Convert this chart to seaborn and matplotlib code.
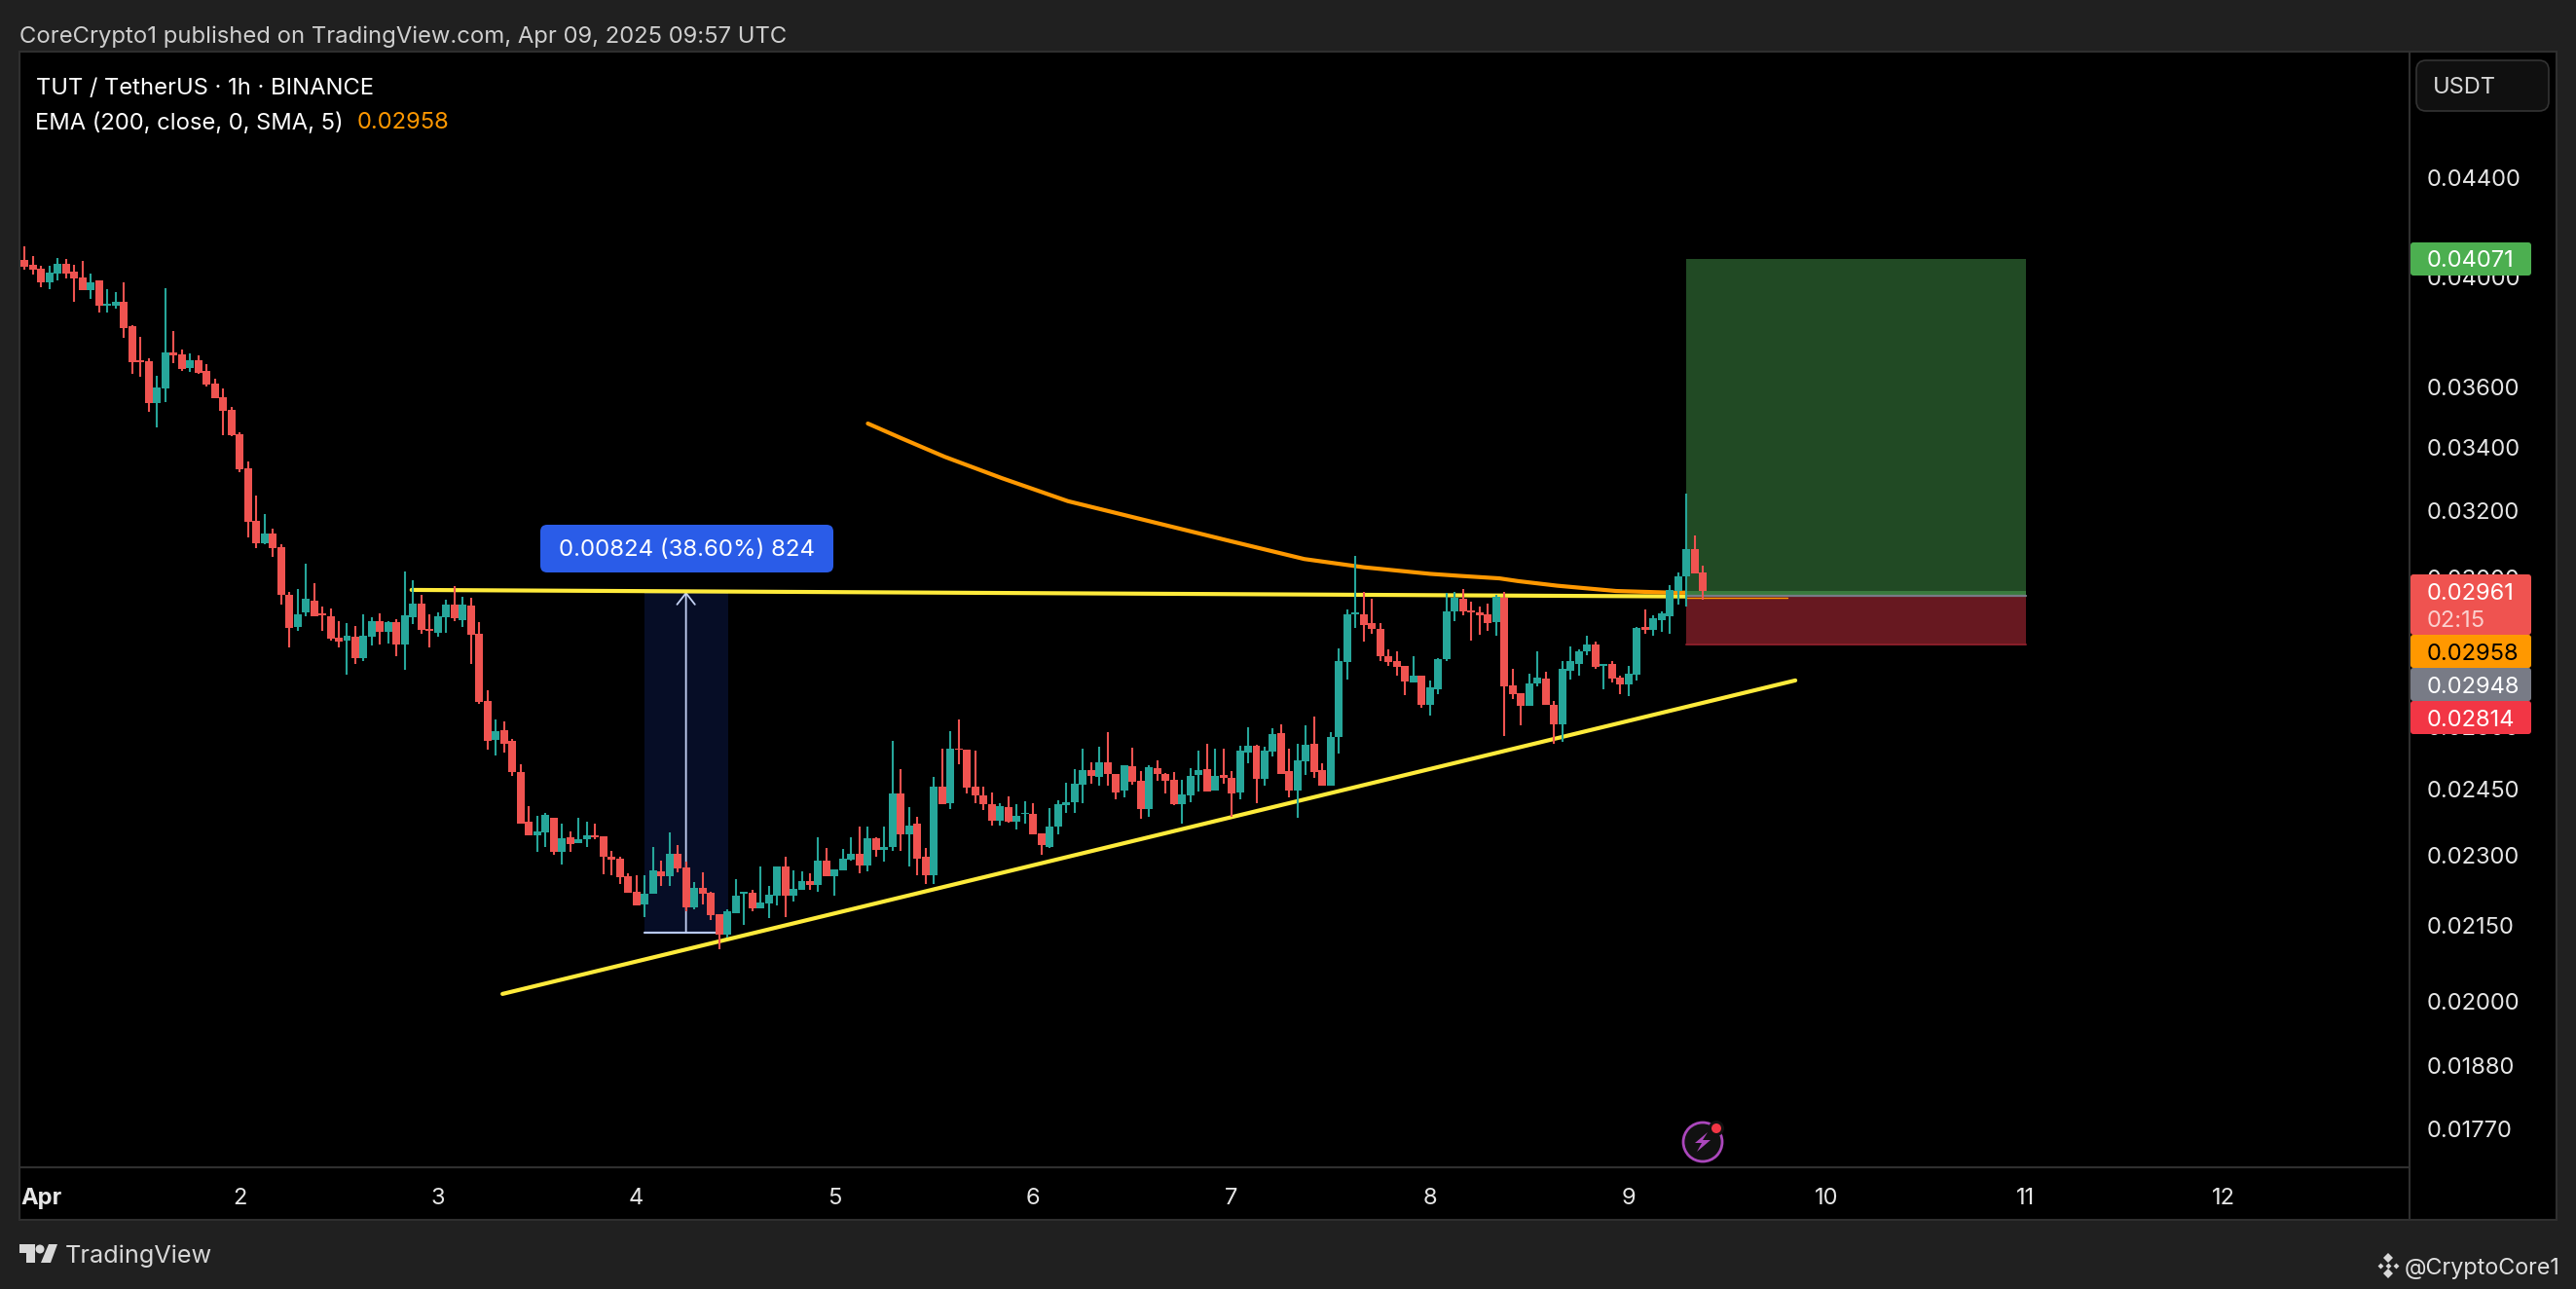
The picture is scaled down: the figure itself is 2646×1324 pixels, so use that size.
import numpy as np
import pandas as pd
import seaborn as sns
import matplotlib.pyplot as plt
from matplotlib.patches import Rectangle, FancyBboxPatch, Polygon, Circle

W, H = 2646, 1324

# hourly candles, in price ticks (1 tick = 0.00001 USDT), first one is Mar 31 22:00
opens = [4065,4046,4032,3980,4015,4050,4020,3997,3950,3987,3893,3893,3907,3816,3693,3691,3546,3596,3722,3715,
         3667,3694,3655,3612,3566,3523,3442,3331,3167,3101,3130,3089,2951,2862,2902,2935,2899,2891,2833,2825,
         2836,2778,2836,2878,2849,2875,2815,2888,2927,2857,2846,2888,2925,2881,2921,2843,2666,2568,2592,2566,
         2490,2374,2344,2350,2385,2307,2339,2326,2335,2345,2341,2297,2292,2254,2221,2194,2216,2264,2254,2303,
         2273,2188,2230,2219,2174,2131,2175,2217,2219,2186,2196,2213,2275,2213,2226,2244,2236,2288,2254,2267,
         2291,2303,2277,2337,2311,2318,2440,2347,2370,2297,2256,2455,2417,2548,2544,2455,2435,2416,2377,2409,
         2376,2392,2393,2349,2318,2363,2413,2419,2461,2495,2479,2513,2487,2446,2504,2470,2404,2500,2487,2473,
         2415,2436,2483,2498,2447,2484,2477,2443,2537,2554,2475,2540,2586,2492,2447,2516,2559,2495,2459,2575,
         2768,2896,2896,2872,2856,2784,2770,2758,2713,2731,2655,2697,2775,2904,2939,2907,2902,2896,2875,2944,
         2706,2685,2653,2711,2724,2655,2606,2745,2763,2797,2813,2758,2761,2727,2709,2735,2863,2853,2881,2892,
         2961,3004,3082,3014]
highs = [4119,4080,4042,4042,4074,4070,4046,4062,4014,3989,3953,3945,3982,3820,3778,3700,3640,3957,3798,3731,
         3717,3711,3679,3631,3597,3531,3447,3352,3245,3187,3143,3098,2959,2968,3040,2984,2917,2913,2877,2873,
         2864,2896,2888,2899,2877,2884,3017,2993,2951,2896,2902,2938,2975,2946,2943,2874,2693,2618,2614,2572,
         2509,2411,2389,2394,2385,2370,2352,2383,2376,2370,2343,2310,2296,2260,2256,2256,2318,2288,2350,2323,
         2286,2242,2262,2221,2174,2184,2247,2221,2225,2275,2234,2275,2296,2267,2265,2261,2339,2315,2268,2314,
         2339,2363,2363,2339,2363,2565,2498,2409,2387,2315,2478,2547,2589,2618,2544,2542,2457,2443,2418,2434,
         2415,2421,2418,2349,2407,2424,2466,2498,2546,2513,2551,2588,2487,2507,2549,2493,2506,2519,2489,2490,
         2472,2500,2543,2560,2546,2548,2492,2554,2600,2556,2551,2598,2607,2546,2559,2605,2627,2512,2588,2804,
         2910,3063,2958,2941,2872,2801,2796,2758,2784,2731,2718,2777,2956,2959,2968,2932,2918,2926,2951,2958,
         2750,2685,2737,2797,2742,2665,2771,2810,2802,2837,2823,2763,2769,2732,2758,2863,2909,2895,2906,2980,
         3014,3251,3125,3036]
lows = [4030,4011,3960,3955,3989,3996,3907,3950,3919,3868,3868,3882,3775,3648,3637,3515,3465,3550,3683,3658,
        3654,3645,3601,3562,3437,3436,3319,3119,3087,3099,3059,2925,2805,2852,2892,2890,2852,2824,2807,2735,
        2763,2770,2811,2813,2817,2783,2747,2871,2842,2805,2836,2846,2879,2862,2763,2658,2544,2530,2537,2481,
        2370,2344,2307,2318,2302,2279,2307,2326,2318,2335,2259,2256,2238,2219,2192,2168,2216,2234,2234,2263,
        2179,2183,2195,2162,2102,2125,2175,2151,2180,2186,2165,2193,2168,2200,2226,2226,2220,2254,2213,2267,
        2289,2261,2264,2296,2286,2310,2310,2275,2256,2238,2238,2415,2403,2509,2441,2417,2402,2367,2367,2373,
        2358,2370,2347,2302,2315,2347,2394,2394,2417,2463,2459,2459,2427,2430,2460,2382,2386,2469,2440,2414,
        2371,2420,2444,2445,2447,2463,2387,2427,2511,2417,2458,2528,2485,2431,2384,2484,2477,2459,2459,2534,
        2722,2859,2821,2842,2770,2756,2731,2680,2713,2648,2629,2683,2771,2877,2893,2825,2840,2851,2838,2579,
        2670,2604,2653,2703,2655,2559,2564,2722,2732,2785,2750,2696,2714,2683,2678,2719,2842,2838,2848,2842,
        2925,2917,3011,2936]
closes = [4040,4030,3980,4017,4050,4015,3996,3950,3982,3892,3899,3907,3810,3687,3688,3546,3598,3722,3712,3663,
          3694,3651,3609,3562,3520,3438,3329,3165,3101,3130,3087,2950,2859,2896,2939,2892,2895,2830,2822,2837,
          2778,2837,2878,2849,2874,2815,2894,2927,2854,2852,2891,2925,2886,2925,2841,2664,2566,2590,2560,2491,
          2370,2344,2352,2391,2307,2337,2324,2336,2345,2339,2297,2291,2252,2219,2192,2216,2267,2254,2303,2271,
          2188,2230,2217,2172,2131,2180,2213,2221,2186,2198,2215,2275,2213,2227,2244,2236,2288,2254,2268,2292,
          2303,2277,2337,2312,2318,2440,2347,2367,2292,2256,2455,2415,2546,2544,2453,2435,2415,2377,2411,2374,
          2388,2396,2347,2322,2365,2415,2420,2463,2495,2481,2513,2487,2443,2507,2467,2404,2502,2487,2469,2415,
          2438,2482,2495,2445,2482,2477,2440,2543,2554,2475,2543,2583,2487,2447,2519,2557,2490,2459,2576,2770,
          2896,2902,2867,2856,2784,2768,2755,2716,2731,2655,2702,2774,2904,2942,2904,2902,2893,2872,2945,2703,
          2683,2653,2711,2727,2655,2606,2748,2771,2797,2813,2755,2763,2724,2709,2737,2860,2853,2887,2898,2964,
          3005,3082,3011,2961]

# 200 EMA, read at a few hours and joined
ema_hours = [100, 104, 109.3, 116.2, 124.2, 134, 144, 152.8, 160, 168, 171.7, 176.4, 178.7, 183.4, 190.5, 197.6, 201]
ema_vals = [0.03477, 0.03429, 0.03368, 0.03300, 0.03228, 0.03167, 0.03106, 0.03054, 0.03030, 0.03011, 0.03005,
            0.02998, 0.02990, 0.02977, 0.02962, 0.02957, 0.02958]

# drawings on the chart
resist_hours, resist_vals = [44.8, 211.3], [0.02965, 0.02945]
support_hours, support_vals = [55.8, 212.2], [0.02014, 0.02719]
pos_hours = (199, 240.1)
pos_target, pos_entry, pos_stop, last_price = 0.04071, 0.02948, 0.02814, 0.02961
meas_hours, meas_low, meas_high = (73, 83.1), 0.02136, 0.02960

# axes
day_ticks = [0, 24, 48, 72, 96, 120, 144, 168, 192, 216, 240, 264]
day_labels = ['Apr', '2', '3', '4', '5', '6', '7', '8', '9', '10', '11', '12']
price_ticks = [0.044, 0.04, 0.036, 0.034, 0.032, 0.03, 0.026, 0.0245, 0.023, 0.0215, 0.02, 0.0188, 0.0177]

BG, LINE, TXT = '#202020', '#2f2f2f', '#e6e6e6'
GREEN, RED = '#26a69a', '#ef5350'

sns.set_theme(style='dark')
plt.rcParams['font.family'] = ['Inter', 'DejaVu Sans']

df = pd.DataFrame({'open': opens, 'high': highs, 'low': lows, 'close': closes}) / 1e5
df['hour'] = np.arange(len(df)) - 2
df['color'] = np.where(df['close'] >= df['open'], GREEN, RED)

fig = plt.figure(figsize=(W / 100, H / 100), dpi=100, facecolor=BG)

# plot area in pixels: x 20-2475, y 53-1199
ax = fig.add_axes([20 / W, 1 - 1199 / H, (2475 - 20) / W, (1199 - 53) / H], facecolor='black', zorder=1)
ax.set_yscale('log')
ax.set_xlim(-2.63, 286.5)
ax.set_ylim(0.01706, 0.04964)
ax.grid(False)
ax.minorticks_off()
for s in ax.spines.values():
    s.set_color(LINE)
    s.set_linewidth(1.5)

# price and time panels behind the tick labels
fig.add_artist(Rectangle((2475 / W, 1 - 1253 / H), 151 / W, 1200 / H, fc='black', ec=LINE, lw=1.5, zorder=-1))
fig.add_artist(Rectangle((20 / W, 1 - 1253 / H), 2455 / W, 54 / H, fc='black', ec=LINE, lw=1.5, zorder=-1))

# long position box
ax.fill_between(pos_hours, pos_entry, pos_target, color='#214a24', lw=0, zorder=3)
ax.fill_between(pos_hours, pos_entry, last_price, color='#3a7a3e', lw=0, zorder=3)
ax.fill_between(pos_hours, pos_stop, pos_entry, color='#671820', lw=0, zorder=3)
ax.plot(pos_hours, [pos_stop, pos_stop], color='#8a1f2a', lw=1.4, zorder=3)
ax.plot(pos_hours, [pos_entry, pos_entry], color='#787b86', lw=1.6, zorder=3)

# measure tool
ax.fill_between(meas_hours, meas_low, meas_high, color='#060d26', lw=0, zorder=1)
ax.plot(meas_hours, [meas_high, meas_high], color='#b8c9f2', lw=1.6, zorder=1.5)
ax.plot(meas_hours, [meas_low, meas_low], color='#b8c9f2', lw=1.6, zorder=1.5)
ax.annotate('', xy=(78, meas_high), xytext=(78, meas_low), zorder=1.6,
            arrowprops=dict(arrowstyle='->,head_length=0.7,head_width=0.55', color='#c4d2f5', lw=1.3,
                            shrinkA=0, shrinkB=0))

# lines
sns.lineplot(x=resist_hours, y=resist_vals, ax=ax, color='#ffeb3b', lw=3, zorder=2)
sns.lineplot(x=ema_hours, y=ema_vals, ax=ax, color='#ff9800', lw=3, zorder=2.1, sort=False, estimator=None)
sns.lineplot(x=support_hours, y=support_vals, ax=ax, color='#ffeb3b', lw=3, zorder=2, solid_capstyle='round')
ax.plot([199, 211.3], [0.02943, 0.02943], color='#ff9800', lw=1, zorder=3.1)

# candles
ax.vlines(df['hour'], df['low'], df['high'], colors=df['color'], lw=1.5, zorder=4)
ax.bar(df['hour'], df['close'] - df['open'], bottom=df['open'], width=0.94, color=df['color'], lw=0, zorder=4.1)

# ticks
ax.set_xticks(day_ticks, day_labels)
ax.set_yticks(price_ticks, [f'{p:.5f}' for p in price_ticks])
ax.yaxis.tick_right()
ax.minorticks_off()
ax.tick_params(axis='x', length=0, pad=15, labelsize=17, labelcolor=TXT)
ax.tick_params(axis='y', length=0, pad=13, labelsize=17, labelcolor=TXT)
ax.get_xticklabels()[0].set_fontweight('bold')
ax.set_xlabel('')
ax.set_ylabel('')

# overlay in picture pixels for tags, header and logos
ov = fig.add_axes([0, 0, 1, 1], zorder=5)
ov.set_xlim(0, W)
ov.set_ylim(H, 0)
ov.axis('off')


def tag(y0, y1, color, text, tcolor='white'):
    ov.add_patch(FancyBboxPatch((2476, y0), 124, y1 - y0, boxstyle='round,pad=0,rounding_size=3', fc=color, lw=0))
    ov.text(2493, (y0 + y1) / 2, text, color=tcolor, fontsize=17, va='center_baseline')


tag(249, 283, '#4caf50', '0.04071')
ov.add_patch(FancyBboxPatch((2476, 590), 124, 62, boxstyle='round,pad=0,rounding_size=3', fc=RED, lw=0))
ov.text(2493, 607, '0.02961', color='white', fontsize=17, va='center_baseline')
ov.text(2493, 635, '02:15', color='#fbd0ce', fontsize=17, va='center_baseline')
tag(652, 686, '#ff9800', '0.02958', 'black')
tag(686, 720, '#787b86', '0.02948')
tag(720, 754, '#f23645', '0.02814')

ov.add_patch(FancyBboxPatch((2482, 62), 136, 52, boxstyle='round,pad=0,rounding_size=10', fc='#101010', ec='#333333', lw=1.2))
ov.text(2499, 88, 'USDT', color='#d8d8d8', fontsize=17, va='center_baseline')

# measure label
ov.add_patch(FancyBboxPatch((555, 539), 301, 49, boxstyle='round,pad=0,rounding_size=7', fc='#2a5ce8', lw=0))
ov.text(705, 563, '0.00824 (38.60%) 824', color='white', fontsize=17.3, ha='center', va='center_baseline')

# header
ov.text(20, 35, 'CoreCrypto1 published on TradingView.com, Apr 09, 2025 09:57 UTC', color='#cfcfcf', fontsize=17.15, va='center_baseline')
ov.text(37, 89, 'TUT / TetherUS · 1h · BINANCE', color='white', fontsize=17.1, va='center_baseline')
ov.text(36, 124, 'EMA (200, close, 0, SMA, 5)', color='white', fontsize=17.1, va='center_baseline')
ov.text(367, 124, '0.02958', color='#ff9800', fontsize=17.1, va='center_baseline')

# TradingView logo and footer
ov.add_patch(Polygon([(20, 1278), (36, 1278), (36, 1297), (27, 1297), (27, 1287), (20, 1287)], fc='#d8d8d8', lw=0))
ov.add_patch(Circle((41, 1283), 4.5, fc='#d8d8d8', lw=0))
ov.add_patch(Polygon([(50, 1278), (59, 1278), (52, 1297), (42, 1297)], fc='#d8d8d8', lw=0))
ov.text(67, 1288, 'TradingView', color='#d8d8d8', fontsize=18.2, va='center_baseline')
ov.text(2470, 1300, '@CryptoCore1', color='#e0e0e0', fontsize=16.8, va='center_baseline')
for dx, dy, sz in [(0, -8, 5), (-8, 0, 3), (8, 0, 3), (0, 8, 5), (0, 0, 3)]:
    ov.plot(2453 + dx, 1300 + dy, marker='D', ms=sz, color='#d8d8d8', mew=0)

# bolt badge
ov.add_patch(Circle((1749, 1173), 20, fc='#111111', ec='#ab47bc', lw=2))
ov.add_patch(Polygon([(1754, 1163), (1741, 1174), (1748, 1174), (1743, 1183), (1757, 1171), (1749, 1171)], fc='#ab47bc', lw=0))
ov.add_patch(Circle((1763, 1159), 8, fc='#111111', lw=0))
ov.add_patch(Circle((1763, 1159), 5, fc='#f23645', lw=0))

fig.savefig('out.png', dpi=100, facecolor=BG)
